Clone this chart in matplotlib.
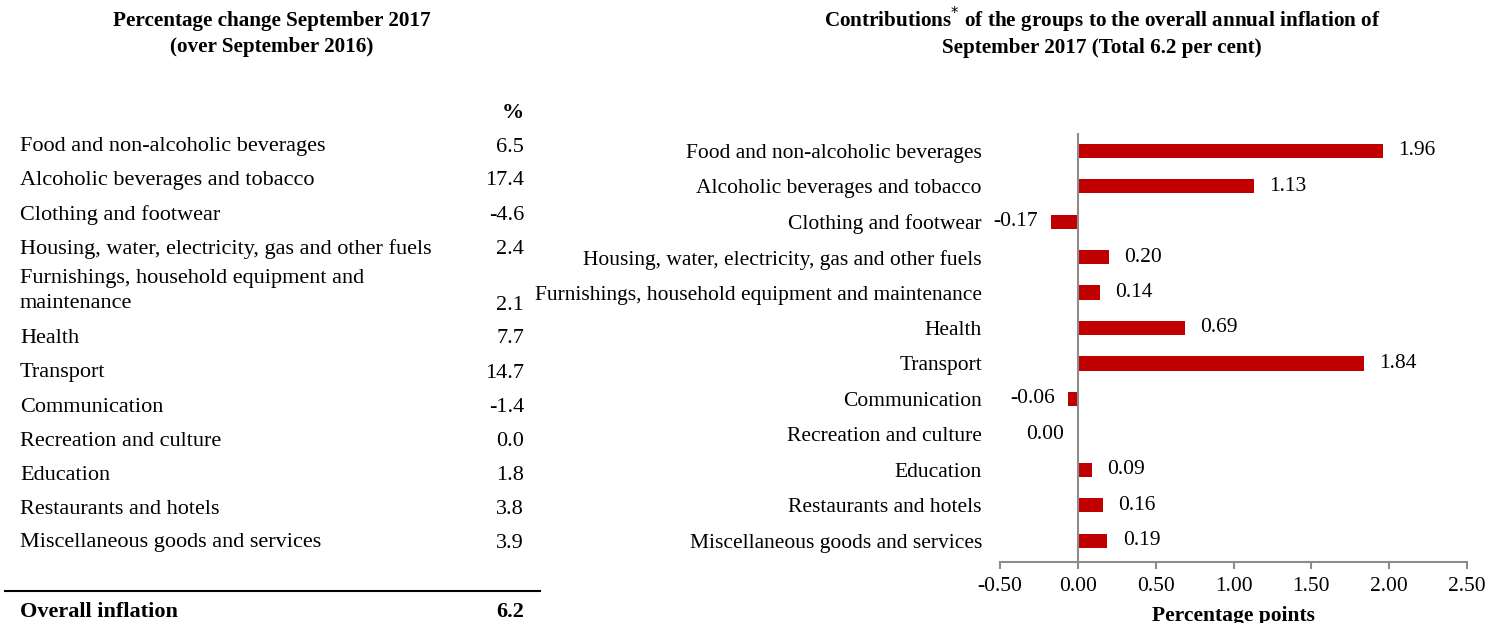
import matplotlib.pyplot as plt

W, H = 1512, 623

groups = [
    "Food and non-alcoholic beverages",
    "Alcoholic beverages and tobacco",
    "Clothing and footwear",
    "Housing, water, electricity, gas and other fuels",
    "Furnishings, household equipment and maintenance",
    "Health",
    "Transport",
    "Communication",
    "Recreation and culture",
    "Education",
    "Restaurants and hotels",
    "Miscellaneous goods and services",
]
table_labels = list(groups)
table_labels[4] = "Furnishings, household equipment and\nmaintenance"
pct_change = ["6.5", "17.4", "-4.6", "2.4", "2.1", "7.7", "14.7", "-1.4",
              "0.0", "1.8", "3.8", "3.9"]
contrib = [1.96, 1.13, -0.17, 0.20, 0.14, 0.69, 1.84, -0.06, -0.001, 0.09, 0.16, 0.19]
overall = "6.2"

plt.rcParams['font.family'] = ['Liberation Serif', 'DejaVu Serif']
fs_tab = 16
fs = 15.5
fs_title = 15.2
red = '#C00000'
grey = '#8c8c8c'

fig = plt.figure(figsize=(W / 100, H / 100), dpi=100)


def px(x, y):
    return x / W, 1 - y / H


# ---- left: table ----
fig.text(*px(272, 34), "Percentage change September 2017\n(over September 2016)",
         ha='center', va='center', fontsize=fs_title, fontweight='bold', linespacing=1.4)
fig.text(*px(524, 113), "%", ha='right', va='center', fontsize=fs_tab, fontweight='bold')

y = 147
for lab, val in zip(table_labels, pct_change):
    if "\n" in lab:
        y += 22
        fig.text(*px(20, y - 14), lab, ha='left', va='center', fontsize=fs_tab, linespacing=1.5)
    else:
        fig.text(*px(20, y), lab, ha='left', va='center', fontsize=fs_tab)
    fig.text(*px(524, y), val, ha='right', va='center', fontsize=fs_tab)
    y += 34

fig.add_artist(plt.Line2D([5 / W, 540 / W], [1 - 591 / H] * 2, color='black', lw=1.5))
fig.text(*px(20, 612), "Overall inflation", ha='left', va='center', fontsize=fs_tab, fontweight='bold')
fig.text(*px(524, 612), overall, ha='right', va='center', fontsize=fs_tab, fontweight='bold')

# ---- right: bar chart ----
ax = fig.add_axes([1000 / W, 1 - 562 / H, 467 / W, 429 / H])
ypos = list(range(len(groups)))
ax.barh(ypos, contrib, height=0.4, color=red)
ax.set_xlim(-0.5, 2.5)
ax.set_ylim(11.6, -0.5)
ax.set_yticks(ypos)
ax.set_yticklabels(groups, fontsize=fs)
ax.tick_params(axis='y', length=0, pad=13)
ax.set_xticks([-0.5, 0, 0.5, 1.0, 1.5, 2.0, 2.5])
ax.set_xticklabels(["-0.50", "0.00", "0.50", "1.00", "1.50", "2.00", "2.50"], fontsize=fs)
ax.tick_params(axis='x', direction='out', length=5, color=grey, width=1.5, pad=6)
for s in ['top', 'right', 'left']:
    ax.spines[s].set_visible(False)
ax.spines['bottom'].set_color(grey)
ax.spines['bottom'].set_linewidth(1.5)
ax.axvline(0, color=grey, lw=1.5, ymin=0, ymax=1)
ax.set_xlabel("Percentage points", fontsize=fs, fontweight='bold', labelpad=7)

for yi, v in zip(ypos, contrib):
    if v > 0:
        ax.annotate(f"{v:.2f}", (v, yi), xytext=(11, 0), textcoords='offset points',
                    ha='left', va='center', fontsize=fs)
    else:
        ax.annotate(f"{abs(v):.2f}" if round(v, 2) == 0 else f"{v:.2f}", (v, yi),
                    xytext=(-10, 0), textcoords='offset points',
                    ha='right', va='center', fontsize=fs)

fig.text(*px(1102, 20), r"Contributions$^{*}$ of the groups to the overall annual inflation of",
         ha='center', va='center', fontsize=fs_title, fontweight='bold')
fig.text(*px(1102, 48), "September 2017 (Total 6.2 per cent)",
         ha='center', va='center', fontsize=fs_title, fontweight='bold')

fig.savefig("out.png", dpi=100)
